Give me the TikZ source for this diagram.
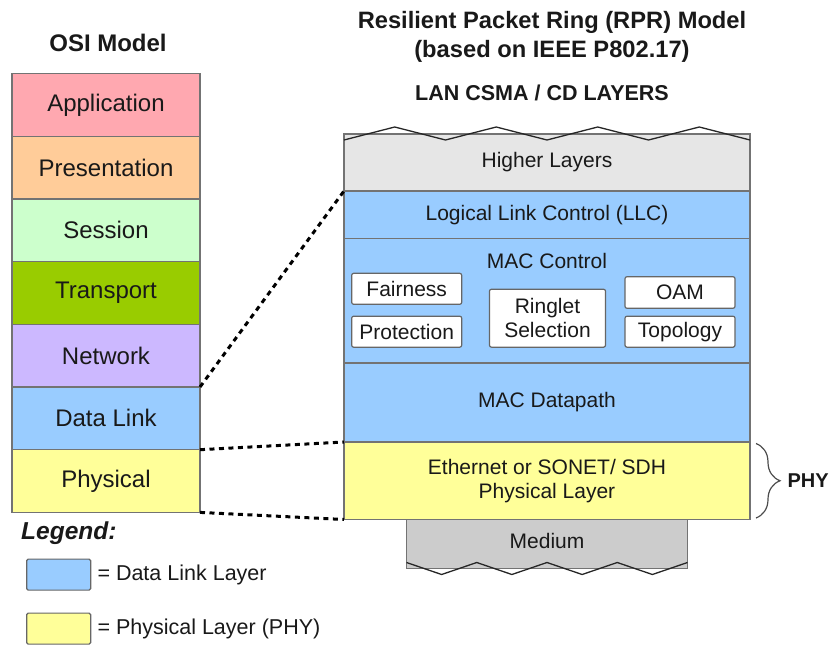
\documentclass[tikz,border=0pt]{standalone}
\usepackage{fontspec}
\setmainfont{Liberation Sans}
\usetikzlibrary{positioning,decorations.pathreplacing}

\definecolor{appcol}{HTML}{FFA8B0}
\definecolor{prescol}{HTML}{FFCC99}
\definecolor{sesscol}{HTML}{CCFFCC}
\definecolor{transcol}{HTML}{99CC00}
\definecolor{netcol}{HTML}{CCB8FF}
\definecolor{dlcol}{HTML}{99CCFF}
\definecolor{phycol}{HTML}{FFFF99}
\definecolor{hlcol}{HTML}{E6E6E6}
\definecolor{medcol}{HTML}{CCCCCC}

\begin{document}
\begin{tikzpicture} [
    x=1pt, y=-1pt,
    stack/.style    = { rectangle, draw=black!55, line width=1.2pt, outer sep=0pt,
                        inner sep=0pt, text=black!90, align=center },
    osi/.style      = { stack, minimum width=188pt, minimum height=62.7pt,
                        font=\fontsize{24}{28}\selectfont },
    rpr/.style      = { stack, minimum width=406pt,
                        font=\fontsize{21}{24}\selectfont },
    func/.style     = { rectangle, rounded corners=2pt, draw=black!60, line width=1.2pt,
                        fill=white, align=center, inner sep=0pt, text=black!90,
                        minimum width=110pt, minimum height=31pt,
                        font=\fontsize{21}{24}\selectfont },
    heading/.style  = { font=\bfseries\fontsize{23.7}{29.5}\selectfont, align=center,
                        inner sep=0pt, text=black!90 },
    note/.style     = { font=\fontsize{21}{24}\selectfont, inner sep=0pt, text=black!90 },
    legendbox/.style= { rectangle, rounded corners=1.5pt, draw=black!60, line width=1.2pt,
                        minimum width=64pt, minimum height=31pt, inner sep=0pt },
    line/.style     = { draw, line width=3pt, dash pattern=on 5pt off 4.5pt },
    torn/.style     = { draw=black!85, line width=1.3pt },
    brace/.style    = { draw=black!70, line width=1.2pt, decorate,
                        decoration={brace, amplitude=24pt} },
  ]
  \useasboundingbox (0,0) rectangle (836,645);

  % OSI stack
  \node[heading, font=\bfseries\fontsize{24}{28}\selectfont] (osititle) at (108,42.5) {OSI Model};
  \node[osi, fill=appcol] (app) at (106,104.85) {Application};
  \node[osi, fill=prescol, below=0pt of app] (pres) {Presentation};
  \node[osi, fill=sesscol, below=0pt of pres] (sess) {Session};
  \node[osi, fill=transcol, below=0pt of sess] (trans) {Transport};
  \node[osi, fill=netcol, below=0pt of trans] (netw) {Network};
  \node[osi, fill=dlcol, below=0pt of netw] (dlink) {Data Link};
  \node[osi, fill=phycol, below=0pt of dlink] (phys) {Physical};

  % RPR stack
  \node[heading] (rprtitle) at (552,37) {Resilient Packet Ring (RPR) Model\\(based on IEEE P802.17)};
  \node[heading, font=\bfseries\fontsize{21.5}{25}\selectfont] (lan) at (542,92.5) {LAN CSMA / CD LAYERS};
  \node[rpr, fill=hlcol, minimum height=57pt] (higher) at (547,162.5) {Higher Layers};
  \node[rpr, fill=dlcol, minimum height=47.5pt, below=0pt of higher] (llc) {Logical Link Control (LLC)};
  \node[rpr, fill=dlcol, minimum height=124.5pt, below=0pt of llc] (macctl) {};
  \node[rpr, fill=dlcol, minimum height=79pt, below=0pt of macctl] (datapath) {MAC Datapath};
  \node[rpr, fill=phycol, minimum height=77.5pt, below=0pt of datapath] (phy) {Ethernet or SONET/ SDH\\Physical Layer};
  \node[rpr, fill=medcol, minimum width=281pt, minimum height=49pt, text depth=7pt, below=0pt of phy] (medium) {Medium};

  % MAC control functions
  \node[note] (macname) at ([yshift=-22pt]macctl.north) {MAC Control};
  \node[func] (fair) at (406.7,288.8) {Fairness};
  \node[func] (prot) at (406.7,331.7) {Protection};
  \node[func, minimum width=116pt, minimum height=58pt] (ringlet) at (547.5,318.2) {Ringlet\\Selection};
  \node[func, minimum height=31.6pt] (oam) at (680,292.5) {OAM};
  \node[func] (topo) at (680,331.7) {Topology};

  % torn edges
  \draw[torn] ([yshift=-6pt]higher.north west) \foreach \k in {1,...,8} { -- ++(50.75,{13*cos(180*\k)}) };
  \draw[torn] ([yshift=-43pt]medium.north west) \foreach \k in {1,...,8} { -- ++(35.125,{-12*cos(180*\k)}) };

  % connect the nodes
  \path [line] (netw.south east) -- (llc.north west);
  \path [line] (dlink.south east) -- (phy.north west);
  \path [line] (phys.south east) -- (phy.south west);
  \draw [brace] ([xshift=6pt,yshift=-1.5pt]phy.north east) -- node[heading, font=\bfseries\fontsize{20}{24}\selectfont, right=31pt] (phyname) {PHY} ([xshift=6pt,yshift=1.5pt]phy.south east);

  % legend
  \node[heading, font=\bfseries\itshape\fontsize{24.5}{28}\selectfont, anchor=west] (legend) at (21,533) {Legend:};
  \node[legendbox, fill=dlcol] (keydl) at (58.7,574.6) {};
  \node[legendbox, fill=phycol] (keyphy) at (58.7,628.6) {};
  \node[note, font=\fontsize{21.5}{24}\selectfont, right=6pt of keydl] (keydltext) {= Data Link Layer};
  \node[note, font=\fontsize{21.5}{24}\selectfont, right=6pt of keyphy] (keyphytext) {= Physical Layer (PHY)};
\end{tikzpicture}
\end{document}
